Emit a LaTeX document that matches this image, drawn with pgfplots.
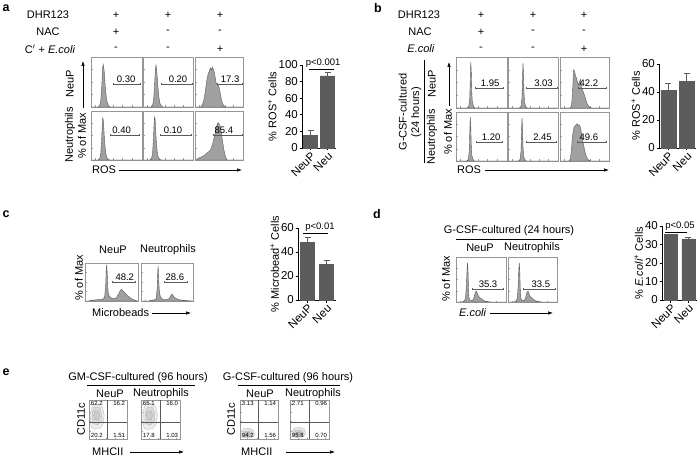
\documentclass[border=0pt]{standalone}
\usepackage{fontspec}
\setmainfont{Liberation Sans}
\usepackage{pgfplots}
\pgfplotsset{compat=1.18}
\usetikzlibrary{arrows.meta}

\definecolor{histfill}{RGB}{160,160,160}
\definecolor{histline}{RGB}{90,90,90}
\definecolor{barfill}{RGB}{92,92,92}
\definecolor{frame}{RGB}{150,150,150}

\newcommand{\lab}{\fontsize{11}{12.5}\selectfont}
\newcommand{\bfont}{\fontsize{11.5}{13}\selectfont}
\newcommand{\gfont}{\fontsize{9.5}{10.5}\selectfont}
\newcommand{\qfont}{\fontsize{6}{7}\selectfont}

\pgfplotsset{
  /pgf/number format/assume math mode=true,
  hist/.style={scale only axis, anchor=south west,
    xmin=0, xmax=100, ymin=0, ymax=100,
    axis line style={draw=frame, line width=0.4pt},
    xtick={8,26,44,62,80}, ytick={25,50,75},
    xticklabel=\empty, yticklabel=\empty,
    tick pos=left, tick align=inside, major tick length=1.5pt,
    tick style={draw=frame, line width=0.3pt}, clip=false},
  bars/.style={scale only axis, anchor=south west, ybar,
    ymin=0, xmin=-0.5, xmax=1.5, xtick={0,1}, xticklabels={NeuP,Neu},
    axis x line*=bottom, axis y line*=left,
    axis line style={-, line width=0.6pt},
    tick align=outside, major tick length=2.5pt,
    tick style={line width=0.6pt, black},
    x tick label style={rotate=45, anchor=north east, inner sep=0.5pt, font=\bfont},
    y tick label style={font=\bfont, inner sep=1.5pt},
    ylabel style={font=\lab, yshift=-3pt}, clip=false},
  barplot/.style={fill=barfill, draw=barfill,
    error bars/.cd, y dir=plus, y explicit,
    error bar style={line width=0.6pt, barfill},
    error mark options={rotate=90, mark size=3pt, line width=0.6pt, barfill}},
  hplot/.style={fill=histfill, draw=histline, line width=0.4pt},
}

% gate line: x1, x2, y, label, label x
\newcommand{\gate}[5]{%
  \draw[histline, line width=0.5pt, {Bar[width=2.5pt]}-{Bar[width=2.5pt]}] (axis cs:#1,#3) -- (axis cs:#2,#3);
  \node[font=\gfont, anchor=south, inner sep=1pt] at (axis cs:#5,#3) {#4};}

\newcommand{\quads}[4]{%
  \draw[black!65, line width=0.4pt] (axis cs:48,0) -- (axis cs:48,100);
  \draw[black!65, line width=0.4pt] (axis cs:0,43) -- (axis cs:100,43);
  \node[font=\qfont, anchor=north west, inner sep=1pt] at (axis cs:2,99) {#1};
  \node[font=\qfont, anchor=north east, inner sep=1pt] at (axis cs:98,99) {#2};
  \node[font=\qfont, anchor=south west, inner sep=1pt] at (axis cs:2,1) {#3};
  \node[font=\qfont, anchor=south east, inner sep=1pt] at (axis cs:98,1) {#4};}

\begin{document}
\begin{tikzpicture}[font=\lab]
\useasboundingbox (0,0) rectangle (700pt,461pt);

% ---------------- panel a histograms ----------------
\begin{axis}[hist, at={(91pt,354pt)}, width=51pt, height=50pt]
\addplot[hplot] coordinates {(0,0)(14,0)(17,3)(19,12)(21,40)(22,62)(23,80)(24,85)(25,78)(26,70)(27,55)(28,40)(30,20)(32,8)(35,2)(38,0)(100,0)} \closedcycle;
\gate{43}{98}{46}{0.30}{69}
\end{axis}
\begin{axis}[hist, at={(143pt,354pt)}, width=50pt, height=50pt]
\addplot[hplot] coordinates {(0,0)(16,0)(19,3)(21,12)(23,40)(24,62)(25,78)(26,84)(27,76)(28,66)(29,52)(30,38)(32,18)(34,7)(37,2)(40,0)(100,0)} \closedcycle;
\gate{36}{98}{46}{0.20}{70}
\end{axis}
\begin{axis}[hist, at={(195pt,354pt)}, width=48pt, height=50pt]
\addplot[hplot] coordinates {(0,0)(12,0)(15,4)(18,12)(21,28)(24,50)(27,65)(30,72)(32,78)(34,74)(36,80)(38,76)(40,70)(42,60)(44,48)(46,46)(48,44)(50,40)(52,30)(54,20)(57,8)(60,2)(64,0)(100,0)} \closedcycle;
\gate{46}{98}{46}{17.3}{73}
\end{axis}
\begin{axis}[hist, at={(91pt,301pt)}, width=51pt, height=49pt]
\addplot[hplot] coordinates {(0,0)(14,0)(17,3)(19,12)(21,45)(22,70)(23,86)(24,82)(25,68)(26,50)(27,34)(29,14)(31,5)(34,1)(37,0)(100,0)} \closedcycle;
\gate{37}{96}{51}{0.40}{60}
\end{axis}
\begin{axis}[hist, at={(143pt,301pt)}, width=50pt, height=49pt]
\addplot[hplot] coordinates {(0,0)(14,0)(17,3)(19,12)(21,45)(22,72)(23,88)(24,84)(25,70)(26,50)(27,32)(29,12)(31,4)(34,1)(37,0)(100,0)} \closedcycle;
\gate{34}{96}{51}{0.10}{60}
\end{axis}
\begin{axis}[hist, at={(195pt,301pt)}, width=48pt, height=49pt]
\addplot[hplot] coordinates {(0,0)(3,0)(6,3)(10,5)(15,7)(20,10)(25,14)(30,18)(33,22)(36,30)(39,42)(42,55)(44,66)(46,72)(48,76)(50,74)(52,70)(54,60)(56,48)(58,35)(60,22)(62,12)(64,5)(67,0)(100,0)} \closedcycle;
\gate{38}{98}{51}{85.4}{60}
\end{axis}

% ---------------- panel a bars ----------------
\begin{axis}[bars, at={(302pt,313pt)}, width=34pt, height=83pt, bar width=14pt,
  ymax=100, ytick={0,20,40,60,80,100}, ylabel={\% ROS\textsuperscript{+} Cells}]
\addplot[barplot] coordinates {(0,15.5) +- (0,5.5) (1,87) +- (0,4)};
\draw[line width=0.6pt] (axis cs:-0.09,95) -- (axis cs:1.38,95);
\node[font=\gfont, anchor=south, inner sep=1pt] at (axis cs:0.74,96) {p<0.001};
\end{axis}

% ---------------- panel b histograms ----------------
\begin{axis}[hist, at={(456pt,353pt)}, width=51pt, height=51pt]
\addplot[hplot] coordinates {(0,0)(22,0)(25,3)(27,20)(28,60)(29,90)(30,70)(31,30)(32,12)(34,4)(37,0)(100,0)} \closedcycle;
\gate{37}{93}{39}{1.95}{67}
\end{axis}
\begin{axis}[hist, at={(508pt,353pt)}, width=50pt, height=51pt]
\addplot[hplot] coordinates {(0,0)(23,0)(26,3)(28,20)(29,60)(30,88)(31,68)(32,30)(33,12)(35,4)(38,0)(100,0)} \closedcycle;
\gate{36}{98}{39}{3.03}{71}
\end{axis}
\begin{axis}[hist, at={(560pt,353pt)}, width=49pt, height=51pt]
\addplot[hplot] coordinates {(0,0)(20,0)(23,3)(25,20)(27,60)(28,75)(30,70)(32,62)(34,58)(36,50)(38,45)(40,52)(42,56)(44,40)(46,35)(48,30)(50,25)(53,15)(56,7)(60,2)(64,0)(100,0)} \closedcycle;
\gate{36}{94}{39}{42.2}{59}
\end{axis}
\begin{axis}[hist, at={(456pt,300pt)}, width=51pt, height=49pt]
\addplot[hplot] coordinates {(0,0)(21,0)(24,3)(26,20)(27,60)(28,90)(29,70)(30,30)(31,12)(33,4)(36,0)(100,0)} \closedcycle;
\gate{39}{92}{39}{1.20}{69}
\end{axis}
\begin{axis}[hist, at={(508pt,300pt)}, width=50pt, height=49pt]
\addplot[hplot] coordinates {(0,0)(21,0)(24,3)(26,20)(27,60)(28,88)(29,68)(30,30)(31,12)(33,4)(36,0)(100,0)} \closedcycle;
\gate{36}{96}{39}{2.45}{69}
\end{axis}
\begin{axis}[hist, at={(560pt,300pt)}, width=49pt, height=49pt]
\addplot[hplot] coordinates {(0,0)(18,0)(21,4)(23,20)(25,45)(27,62)(29,70)(31,72)(33,74)(35,76)(37,72)(39,74)(41,70)(43,62)(45,50)(47,38)(49,28)(52,15)(55,6)(58,2)(62,0)(100,0)} \closedcycle;
\gate{34}{94}{39}{49.6}{59}
\end{axis}

% ---------------- panel b bars ----------------
\begin{axis}[bars, at={(659pt,313pt)}, width=37pt, height=84pt, bar width=15pt,
  ymax=60, ytick={0,20,40,60}, ylabel={\% ROS\textsuperscript{+} Cells}]
\addplot[barplot] coordinates {(0,41) +- (0,5) (1,47.5) +- (0,5.5)};
\end{axis}

% ---------------- panel c ----------------
\begin{axis}[hist, at={(85pt,160pt)}, width=53pt, height=38pt]
\addplot[hplot] coordinates {(0,0)(8,0)(12,2)(20,3)(28,4)(34,5)(37,10)(39,40)(40,80)(41,95)(42,70)(43,35)(44,20)(46,12)(50,8)(54,6)(58,7)(60,10)(62,16)(64,20)(66,26)(68,30)(70,30)(72,25)(74,24)(76,20)(78,18)(80,14)(84,10)(88,6)(92,3)(96,1)(100,0)} \closedcycle;
\gate{50}{96}{50}{48.2}{75}
\end{axis}
\begin{axis}[hist, at={(141pt,160pt)}, width=52pt, height=38pt]
\addplot[hplot] coordinates {(0,0)(15,0)(20,2)(26,3)(29,6)(31,30)(32,70)(33,92)(34,60)(35,30)(37,12)(40,6)(45,4)(50,4)(54,6)(56,10)(58,16)(60,18)(62,14)(64,10)(67,7)(70,5)(75,3)(80,2)(88,1)(100,0)} \closedcycle;
\gate{45}{90}{50}{28.6}{65}
\end{axis}
\begin{axis}[bars, at={(298pt,161pt)}, width=38pt, height=72pt, bar width=14pt,
  ymax=60, ytick={0,20,40,60}, ylabel={\% Microbead\textsuperscript{+} Cells}]
\addplot[barplot] coordinates {(0,48) +- (0,4) (1,30) +- (0,3)};
\draw[line width=0.6pt] (axis cs:-0.24,55.8) -- (axis cs:1.07,55.8);
\node[font=\gfont, anchor=south, inner sep=1pt] at (axis cs:0.66,56.5) {p<0.01};
\end{axis}

% ---------------- panel d ----------------
\begin{axis}[hist, at={(456pt,159pt)}, width=50pt, height=45pt]
\addplot[hplot] coordinates {(0,0)(12,0)(16,2)(19,8)(21,40)(22,70)(23,87)(24,70)(25,30)(26,10)(28,4)(32,3)(35,6)(37,15)(39,22)(41,24)(43,18)(45,13)(47,10)(50,8)(53,5)(56,3)(62,1)(70,0)(100,0)} \closedcycle;
\gate{32}{94}{29}{35.3}{64}
\end{axis}
\begin{axis}[hist, at={(508pt,159pt)}, width=49pt, height=45pt]
\addplot[hplot] coordinates {(0,0)(12,0)(16,2)(19,8)(21,40)(22,70)(23,87)(24,70)(25,30)(26,10)(28,4)(32,3)(35,6)(37,15)(39,22)(41,24)(43,18)(45,13)(47,10)(50,8)(53,5)(56,3)(62,1)(70,0)(100,0)} \closedcycle;
\gate{31}{96}{29}{33.5}{67}
\end{axis}
\begin{axis}[bars, at={(662pt,161pt)}, width=35pt, height=74pt, bar width=13pt,
  ymax=40, ytick={0,10,20,30,40}, ylabel={\% \textit{E.coli}\textsuperscript{+} Cells}]
\addplot[barplot] coordinates {(0,35.3) +- (0,0.4) (1,33) +- (0,0.8)};
\draw[line width=0.6pt] (axis cs:-0.33,36.8) -- (axis cs:0.93,36.8);
\node[font=\gfont, anchor=south, inner sep=1pt] at (axis cs:0.53,37.2) {p<0.05};
\end{axis}

% ---------------- panel e ----------------
\begin{axis}[hist, at={(89pt,22pt)}, width=38pt, height=39pt, xtick={20,45,70,90}, ytick={20,45,70,90}]
\addplot[fill=gray!15, draw=gray!60, line width=0.3pt] coordinates {(6,30)(15,25)(30,28)(38,40)(40,60)(36,80)(25,90)(10,88)(5,70)(4,45)(6,30)};
\addplot[fill=gray!28, draw=gray!65, line width=0.3pt] coordinates {(10,40)(22,36)(32,45)(33,65)(28,80)(15,82)(9,68)(8,50)(10,40)};
\addplot[fill=gray!40, draw=gray!70, line width=0.3pt] coordinates {(14,50)(24,48)(28,60)(24,72)(15,72)(12,62)(14,50)};
\quads{62.2}{16.2}{20.2}{1.51}
\end{axis}
\begin{axis}[hist, at={(141pt,22pt)}, width=39pt, height=39pt, xtick={20,45,70,90}, ytick={20,45,70,90}]
\addplot[fill=gray!15, draw=gray!60, line width=0.3pt] coordinates {(8,28)(18,24)(32,28)(40,42)(42,62)(38,82)(26,92)(12,90)(6,72)(5,46)(8,28)};
\addplot[fill=gray!28, draw=gray!65, line width=0.3pt] coordinates {(12,40)(24,36)(34,46)(35,66)(30,80)(17,82)(11,68)(10,50)(12,40)};
\addplot[fill=gray!40, draw=gray!70, line width=0.3pt] coordinates {(16,50)(26,48)(30,60)(26,72)(17,72)(14,62)(16,50)};
\quads{65.1}{16.0}{17.8}{1.03}
\end{axis}
\begin{axis}[hist, at={(240pt,22pt)}, width=38pt, height=39pt, xtick={20,45,70,90}, ytick={20,45,70,90}]
\addplot[fill=gray!18, draw=gray!60, line width=0.3pt] coordinates {(4,5)(15,3)(30,4)(38,10)(36,22)(25,28)(10,26)(4,18)(4,5)};
\addplot[fill=gray!35, draw=gray!65, line width=0.3pt] coordinates {(8,7)(18,6)(30,8)(32,15)(25,21)(12,20)(8,14)(8,7)};
\addplot[fill=gray!55, draw=gray!75, line width=0.3pt] coordinates {(14,10)(22,9)(27,13)(22,17)(15,16)(14,10)};
\quads{3.13}{1.14}{94.2}{1.56}
\end{axis}
\begin{axis}[hist, at={(290pt,22pt)}, width=39pt, height=39pt, xtick={20,45,70,90}, ytick={20,45,70,90}]
\addplot[fill=gray!18, draw=gray!60, line width=0.3pt] coordinates {(5,6)(16,4)(32,5)(40,12)(38,24)(26,30)(11,28)(5,19)(5,6)};
\addplot[fill=gray!35, draw=gray!65, line width=0.3pt] coordinates {(9,8)(19,7)(31,9)(34,16)(26,23)(13,22)(9,15)(9,8)};
\addplot[fill=gray!55, draw=gray!75, line width=0.3pt] coordinates {(15,11)(23,10)(28,14)(23,18)(16,17)(15,11)};
\quads{2.71}{0.96}{95.8}{0.70}
\end{axis}

% ---------------- text annotations (pixel coordinates, y downwards) ----------------
\begin{scope}[x=1pt, y=-1pt, yshift=461pt]
  \tikzset{arr/.style={line width=0.6pt, -{Latex[length=5pt,width=3.5pt]}}}
  % panel letters
  \foreach \t/\x/\y in {a/6/8, b/378/8, c/6/214, d/377/214, e/6/372}
    \node[font=\fontsize{12.5}{14}\selectfont\bfseries] at (\x,\y) {\t};

  % panel a header
  \node at (48,15) {DHR123};
  \node at (48,32) {NAC};
  \node at (50,49) {C$'$ + \textit{E.coli}};
  \foreach \x/\p/\q/\r in {116/+/+/-, 168/+/-/-, 220/+/-/+} {
    \node at (\x,15) {\p}; \node at (\x,32) {\q}; \node at (\x,49) {\r}; }
  \node[rotate=90] at (70,84) {NeuP};
  \node[rotate=90] at (70,135) {Neutrophils};
  \node[rotate=90] at (82,136) {\% of Max};
  \draw[arr] (83,108) -- (83,61);
  \node[anchor=west, inner sep=0pt] at (92,170) {ROS};
  \draw[arr] (119,170) -- (242,170);

  % panel b header
  \node at (419,15) {DHR123};
  \node at (420,32) {NAC};
  \node at (421,49) {\textit{E.coli}};
  \foreach \x/\p/\q/\r in {481/+/+/-, 533/+/-/-, 584/+/-/+} {
    \node at (\x,15) {\p}; \node at (\x,32) {\q}; \node at (\x,49) {\r}; }
  \node[rotate=90, align=center, inner sep=0pt] at (410,112) {G-CSF-cultured\\(24 hours)};
  \draw[line width=0.6pt] (424,60) -- (424,163);
  \node[rotate=90] at (432,84) {NeuP};
  \node[rotate=90] at (432,137) {Neutrophils};
  \node[rotate=90] at (448,132) {\% of Max};
  \draw[arr] (449,106) -- (449,62);
  \node[anchor=west, inner sep=0pt] at (457,170) {ROS};
  \draw[arr] (485,170) -- (609,170);

  % panel c
  \node at (113,250) {NeuP};
  \node at (168,250) {Neutrophils};
  \node[rotate=90] at (79,278) {\% of Max};
  \node[anchor=west, inner sep=0pt] at (92,313) {Microbeads};
  \draw[arr] (152,313) -- (191,313);

  % panel d
  \node at (509,231) {G-CSF-cultured (24 hours)};
  \draw[line width=0.6pt] (456,239) -- (563,239);
  \node at (480,248) {NeuP};
  \node at (532,248) {Neutrophils};
  \node[rotate=90] at (446,279) {\% of Max};
  \node[anchor=west, inner sep=0pt] at (459,313) {\textit{E.coli}};
  \draw[arr] (490,313) -- (553,313);

  % panel e
  \node at (138,378) {GM-CSF-cultured (96 hours)};
  \draw[line width=0.6pt] (87,385) -- (195,385);
  \node at (110,394) {NeuP};
  \node at (161,394) {Neutrophils};
  \node[rotate=90] at (81,419) {CD11c};
  \node[anchor=west, inner sep=0pt] at (92,452) {MHCII};
  \draw[arr] (130,452) -- (184,452);

  \node at (288,378) {G-CSF-cultured (96 hours)};
  \draw[line width=0.6pt] (238,385) -- (340,385);
  \node at (260,394) {NeuP};
  \node at (313,394) {Neutrophils};
  \node[rotate=90] at (231,419) {CD11c};
  \node[anchor=west, inner sep=0pt] at (241,452) {MHCII};
  \draw[arr] (286,452) -- (335,452);
\end{scope}
\end{tikzpicture}
\end{document}
